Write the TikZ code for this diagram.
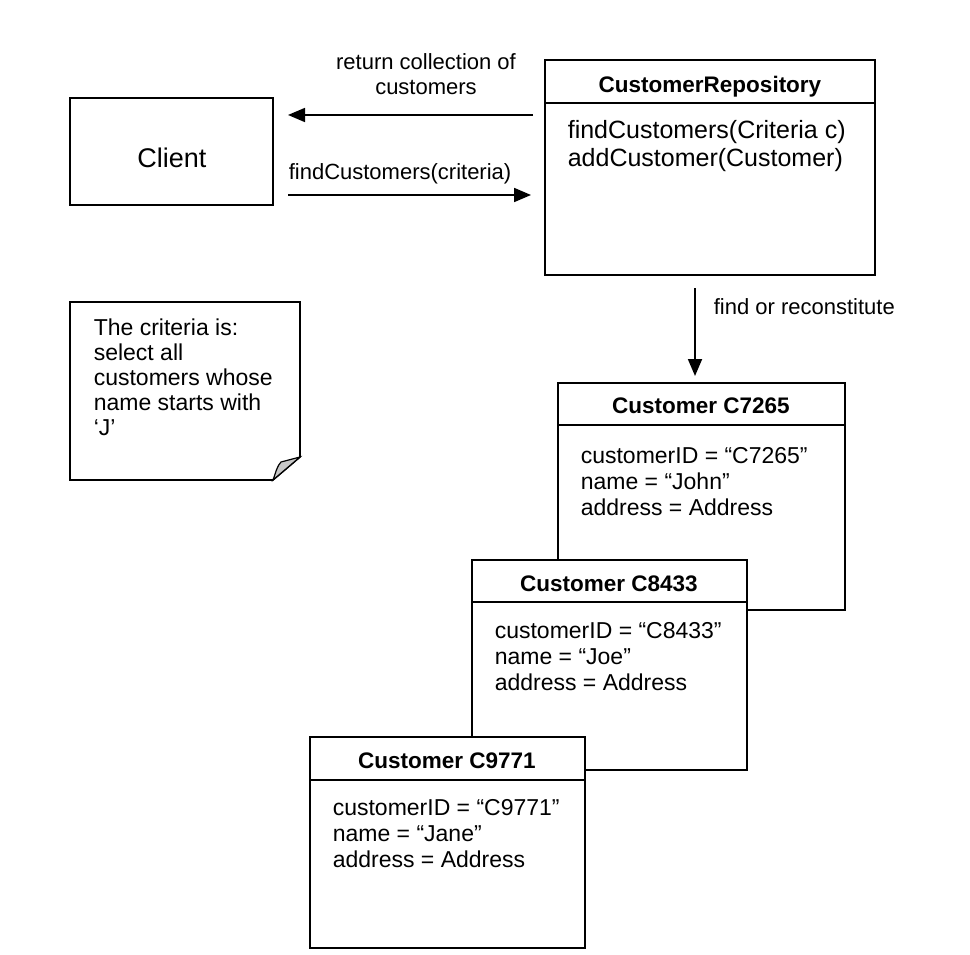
\documentclass[tikz,border=0pt]{standalone}
\usepackage{fontspec}
\setmainfont{Liberation Sans}
\usetikzlibrary{arrows.meta}
\begin{document}
\begin{tikzpicture}[x=1pt,y=-1pt,line width=1.6pt,
  box/.style={draw,fill=white,anchor=north west,inner sep=0pt,outer sep=0pt},
  ttl/.style={font=\fontsize{22.5}{26}\selectfont\bfseries,anchor=base,inner sep=0pt},
  body/.style={font=\fontsize{23}{26}\selectfont,anchor=base west,inner sep=0pt},
  meth/.style={font=\fontsize{25}{28}\selectfont,anchor=base west,inner sep=0pt},
  lbl/.style={font=\fontsize{22}{25}\selectfont,inner sep=0pt},
  arr/.style={-{Triangle[length=17pt,width=14pt]},line width=1.8pt}]
\useasboundingbox (0,0) rectangle (970,955);

% Client
\node[box,minimum width=203pt,minimum height=107pt] (client) at (70,98) {};
\node[font=\fontsize{27}{30}\selectfont,inner sep=0pt] (clienttxt) at (172,158) {Client};

% Repository
\node[box,minimum width=330pt,minimum height=215pt] (repo) at (545,60) {};
\draw (545,103) -- (875,103);
\node[ttl] (repotitle) at (710,93) {CustomerRepository};
\node[meth] (m1) at (567,139) {findCustomers(Criteria c)};
\node[meth] (m2) at (567,167) {addCustomer(Customer)};

% arrows between client and repo
\coordinate (retS) at (533,115);
\coordinate (retE) at (288,115);
\coordinate (findS) at (288,195);
\coordinate (findE) at (531,195);
\draw[arr] (retS) -- (retE);
\draw[arr] (findS) -- (findE);
\node[lbl,anchor=base] (rl1) at (426,70) {return collection of};
\node[lbl,anchor=base] (rl2) at (426,95) {customers};
\node[lbl,anchor=base west] (fl) at (288,180) {findCustomers(criteria)};

% find or reconstitute
\coordinate (vS) at (695,288);
\coordinate (vE) at (695,376);
\draw[arr] (vS) -- (vE);
\node[lbl,anchor=base west] (frl) at (713,314) {find or reconstitute};

% note
\draw[fill=white] (70,302) -- (300,302) -- (300,457) -- (273,480) -- (70,480) -- cycle;
\draw[fill=black!22,line width=1.2pt] (273,480) .. controls (276,472) and (277,466) .. (281,462) -- (300,457) -- cycle;
\node[body,font=\fontsize{23}{25}\selectfont] (n1) at (93,335) {The criteria is:};
\node[body,font=\fontsize{23}{25}\selectfont] (n2) at (93,360) {select all};
\node[body,font=\fontsize{23}{25}\selectfont] (n3) at (93,385) {customers whose};
\node[body,font=\fontsize{23}{25}\selectfont] (n4) at (93,410) {name starts with};
\node[body,font=\fontsize{23}{25}\selectfont] (n5) at (93,435) {‘J’};

% Customer C7265
\node[box,minimum width=287pt,minimum height=227pt] (c1) at (558,383) {};
\draw (558,425) -- (845,425);
\node[ttl] (c1t) at (701,413) {Customer C7265};
\node[body] (c1a) at (580,463) {customerID = “C7265”};
\node[body] (c1b) at (580,489) {name = “John”};
\node[body] (c1c) at (580,515) {address = Address};

% Customer C8433
\node[box,minimum width=275pt,minimum height=210pt] (c2) at (472,560) {};
\draw (472,602) -- (747,602);
\node[ttl] (c2t) at (609,591) {Customer C8433};
\node[body] (c2a) at (494,638) {customerID = “C8433”};
\node[body] (c2b) at (494,664) {name = “Joe”};
\node[body] (c2c) at (494,690) {address = Address};

% Customer C9771
\node[box,minimum width=275pt,minimum height=211pt] (c3) at (310,737) {};
\draw (310,780) -- (585,780);
\node[ttl] (c3t) at (447,768) {Customer C9771};
\node[body] (c3a) at (332,815) {customerID = “C9771”};
\node[body] (c3b) at (332,841) {name = “Jane”};
\node[body] (c3c) at (332,867) {address = Address};
\end{tikzpicture}
\end{document}
